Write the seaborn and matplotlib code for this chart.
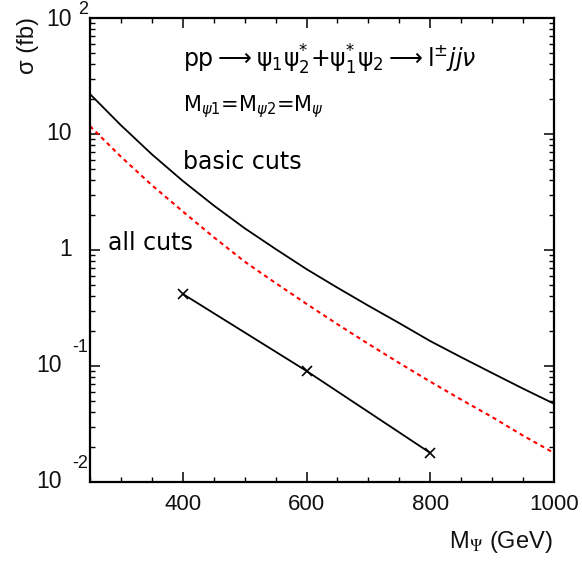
import matplotlib
matplotlib.use("Agg")
import numpy as np
import pandas as pd
import seaborn as sns
import matplotlib.pyplot as plt
import matplotlib.transforms as mtransforms
from matplotlib.ticker import FixedLocator, MultipleLocator, LogLocator, NullFormatter

# Cross sections (fb) versus the common mass M_psi (GeV)
mass = [250, 300, 350, 400, 450, 500, 550, 600, 650, 700, 750, 800, 850, 900, 950, 1000]
sigma_basic = [22.1, 11.9, 6.68, 3.94, 2.42, 1.54, 1.02, 0.684, 0.473, 0.331,
               0.234, 0.164, 0.119, 0.087, 0.0638, 0.0473]
sigma_dashed = [11.7, 6.37, 3.62, 2.15, 1.29, 0.794, 0.519, 0.343, 0.229, 0.155,
                0.106, 0.0733, 0.0513, 0.0363, 0.0251, 0.0178]
mass_all = [400, 600, 800]
sigma_all = [0.418, 0.0906, 0.0178]

x_ticks = [400, 600, 800, 1000]
y_decades = [2, 1, 0, -1, -2]

sns.set_theme(style="ticks")
plt.rcParams["font.family"] = ["Liberation Sans", "DejaVu Sans"]
plt.rcParams["mathtext.fontset"] = "dejavusans"

W, H = 582, 569
fig = plt.figure(figsize=(W / 100, H / 100), dpi=100)
ax = fig.add_axes([90 / W, 1 - 482 / H, 464 / W, 464 / H])

df_basic = pd.DataFrame({"mass": mass, "sigma": sigma_basic})
df_dashed = pd.DataFrame({"mass": mass, "sigma": sigma_dashed})
df_all = pd.DataFrame({"mass": mass_all, "sigma": sigma_all})

sns.lineplot(data=df_basic, x="mass", y="sigma", ax=ax, color="black", lw=1.3)
sns.lineplot(data=df_dashed, x="mass", y="sigma", ax=ax, color="#ff0000", lw=1.5,
             linestyle=(0, (2.0, 1.8)))
sns.lineplot(data=df_all, x="mass", y="sigma", ax=ax, color="black", lw=1.3,
             marker="x", markersize=7, markeredgewidth=1.2, markeredgecolor="black")

ax.set_yscale("log")
ax.set_xlim(250, 1000)
ax.set_ylim(0.01, 100)
ax.set_xlabel("")
ax.set_ylabel("")

for s in ax.spines.values():
    s.set_linewidth(1.6)
    s.set_color("black")

ax.xaxis.set_major_locator(FixedLocator(x_ticks))
ax.xaxis.set_minor_locator(MultipleLocator(50))
ax.yaxis.set_major_locator(LogLocator(base=10))
ax.yaxis.set_minor_locator(LogLocator(base=10, subs=np.arange(2, 10)))
ax.yaxis.set_major_formatter(NullFormatter())
ax.yaxis.set_minor_formatter(NullFormatter())
ax.tick_params(which="both", direction="in", top=True, right=True, colors="black")
ax.tick_params(which="major", length=7.2, width=1.1)
ax.tick_params(which="minor", length=3.6, width=1.0)
ax.tick_params(axis="x", which="major", labelsize=16, pad=9)
for lab in ax.get_xticklabels():
    lab.set_color("#111111")

# y tick labels in "10 with raised exponent" form
ytrans = mtransforms.blended_transform_factory(ax.transAxes, ax.transData)
for d in y_decades:
    y = 10.0 ** d
    if d in (0, 1):
        txt = "1" if d == 0 else "10"
        ax.annotate(txt, xy=(0, y), xycoords=ytrans, xytext=(-18, 0),
                    textcoords="offset pixels", ha="right", va="center",
                    fontsize=16.5, color="#111111")
    else:
        base_dx = -18 if d > 0 else -28
        ax.annotate("10", xy=(0, y), xycoords=ytrans, xytext=(base_dx, -2 if d > 0 else 0),
                    textcoords="offset pixels", ha="right", va="center",
                    fontsize=16.5, color="#111111")
        exp_dy = 9 if d > 0 else 19
        ax.annotate(str(d), xy=(0, y), xycoords=ytrans, xytext=(-2, exp_dy),
                    textcoords="offset pixels", ha="right", va="center",
                    fontsize=13, color="#111111")

# axis titles
fig.text(28 / W, 1 - 17 / H, "σ (fb)", rotation=90, ha="center", va="top",
         fontsize=17, color="#111111")
fig.text(553 / W, 1 - 548 / H, r"M$_{\Psi}$ (GeV)", ha="right", va="baseline",
         fontsize=17, color="#111111", math_fontfamily="stix")

# process and cut annotations
ann = dict(color="black", family="DejaVu Sans", va="baseline")
fig.text(183 / W, 1 - 68 / H,
         r"pp$\longrightarrow$ψ$_{1}$ψ$_{2}^{*}$+ψ$_{1}^{*}$ψ$_{2}$$\longrightarrow$l$^{\pm}$$jj\nu$",
         fontsize=17, **ann)
fig.text(183 / W, 1 - 111 / H, r"M$_{\psi 1}$=M$_{\psi 2}$=M$_{\psi}$", fontsize=15, **ann)
fig.text(183 / W, 1 - 169 / H, "basic cuts", fontsize=17, **ann)
fig.text(108 / W, 1 - 250 / H, "all cuts", fontsize=17, **ann)

fig.savefig("out.png", dpi=100)
